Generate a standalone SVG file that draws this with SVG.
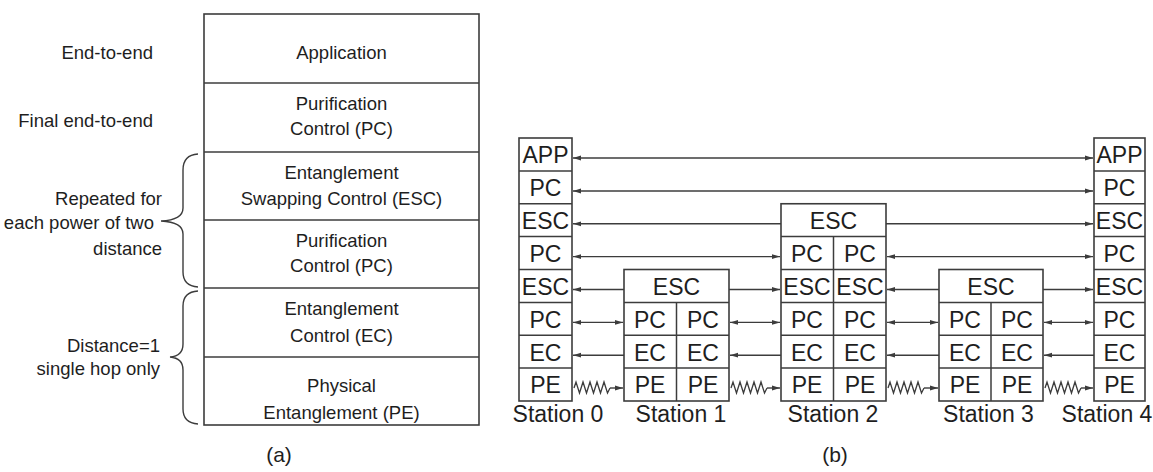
<svg xmlns="http://www.w3.org/2000/svg" width="1153" height="472" viewBox="0 0 1153 472">
<style>
  .bg{fill:#ffffff}
  .box{fill:#ffffff;stroke:#3c3c3c;stroke-width:1.6}
  .div{stroke:#3c3c3c;stroke-width:1.5;fill:none}
  text{font-family:"Liberation Sans",Arial,sans-serif;fill:#1e1e1e}
  .ta{font-size:18.5px}
  .tb{font-size:23px;text-anchor:middle}
  .cap{font-size:21px;text-anchor:middle}
  .mid{text-anchor:middle}
  .end{text-anchor:end}
  .brace{fill:none;stroke:#3c3c3c;stroke-width:1.4}
  .ar2{stroke:#3c3c3c;stroke-width:1.4;fill:none;marker-end:url(#ah)}
  .ar3{stroke:#3c3c3c;stroke-width:1.4;fill:none;marker-start:url(#ah);marker-end:url(#ah)}
  .wave{stroke:#3c3c3c;stroke-width:1.3;fill:none;stroke-linejoin:miter}
</style>
<defs>
  <marker id="ah" viewBox="0 0 8 6" refX="8" refY="3" markerWidth="8" markerHeight="6" orient="auto-start-reverse" markerUnits="userSpaceOnUse">
    <path d="M0,0.6 L8,3 L0,5.4 Z" fill="#3c3c3c"/>
  </marker>
</defs>
<rect class="bg" x="0" y="0" width="1153" height="472"/>

<g id="stack-a">
  <rect class="box" x="204" y="14" width="275" height="411"/>
  <line class="div" x1="204" y1="83" x2="479" y2="83"/>
  <line class="div" x1="204" y1="152" x2="479" y2="152"/>
  <line class="div" x1="204" y1="220" x2="479" y2="220"/>
  <line class="div" x1="204" y1="288" x2="479" y2="288"/>
  <line class="div" x1="204" y1="357" x2="479" y2="357"/>
</g>
<g id="layer-app"><text class="ta mid" x="341.5" y="59">Application</text></g>
<g id="layer-pc-final"><text class="ta mid" x="341.5" y="110">Purification</text><text class="ta mid" x="341.5" y="135">Control (PC)</text></g>
<g id="layer-esc"><text class="ta mid" x="341.5" y="179">Entanglement</text><text class="ta mid" x="341.5" y="205">Swapping Control (ESC)</text></g>
<g id="layer-pc"><text class="ta mid" x="341.5" y="247">Purification</text><text class="ta mid" x="341.5" y="272">Control (PC)</text></g>
<g id="layer-ec"><text class="ta mid" x="341.5" y="315">Entanglement</text><text class="ta mid" x="341.5" y="342">Control (EC)</text></g>
<g id="layer-pe"><text class="ta mid" x="341.5" y="392">Physical</text><text class="ta mid" x="341.5" y="419">Entanglement (PE)</text></g>

<g id="labels-a">
  <text class="ta end" x="153" y="59">End-to-end</text>
  <text class="ta end" x="153" y="127">Final end-to-end</text>
  <text class="ta end" x="162" y="205">Repeated for</text>
  <text class="ta end" x="154" y="229">each power of two</text>
  <text class="ta end" x="162" y="255">distance</text>
  <text class="ta end" x="160" y="352">Distance=1</text>
  <text class="ta end" x="160" y="375">single hop only</text>
  <path class="brace" d="M198,154 Q183,155 183,170 L183,208 Q183,220 161,221 Q183,222 183,234 L183,272 Q183,286 198,287"/>
  <path class="brace" d="M198,291 Q183,292 183,306 L183,344 Q183,356 170,357 Q183,358 183,370 L183,409 Q183,423 198,424"/>
  <text class="cap" x="279" y="462">(a)</text>
</g>

<g id="station0">
  <rect class="box" x="519" y="138" width="53" height="263"/>
  <line class="div" x1="519" y1="170.9" x2="572" y2="170.9"/>
  <line class="div" x1="519" y1="203.75" x2="572" y2="203.75"/>
  <line class="div" x1="519" y1="236.6" x2="572" y2="236.6"/>
  <line class="div" x1="519" y1="269.5" x2="572" y2="269.5"/>
  <line class="div" x1="519" y1="302.4" x2="572" y2="302.4"/>
  <line class="div" x1="519" y1="335.25" x2="572" y2="335.25"/>
  <line class="div" x1="519" y1="368.1" x2="572" y2="368.1"/>
  <text class="tb" x="545.5" y="163">APP</text>
  <text class="tb" x="545.5" y="196">PC</text>
  <text class="tb" x="545.5" y="229">ESC</text>
  <text class="tb" x="545.5" y="262">PC</text>
  <text class="tb" x="545.5" y="295">ESC</text>
  <text class="tb" x="545.5" y="327.5">PC</text>
  <text class="tb" x="545.5" y="360.5">EC</text>
  <text class="tb" x="545.5" y="393">PE</text>
  <text class="tb" x="558" y="422">Station 0</text>
</g>

<g id="station1">
  <rect class="box" x="624" y="269.5" width="105" height="131.5"/>
  <line class="div" x1="624" y1="302.4" x2="729" y2="302.4"/>
  <line class="div" x1="624" y1="335.25" x2="729" y2="335.25"/>
  <line class="div" x1="624" y1="368.1" x2="729" y2="368.1"/>
  <line class="div" x1="676.5" y1="302.4" x2="676.5" y2="401"/>
  <text class="tb" x="676.5" y="295">ESC</text>
  <text class="tb" x="650" y="327.5">PC</text><text class="tb" x="703" y="327.5">PC</text>
  <text class="tb" x="650" y="360.5">EC</text><text class="tb" x="703" y="360.5">EC</text>
  <text class="tb" x="650" y="393">PE</text><text class="tb" x="703" y="393">PE</text>
  <text class="tb" x="681" y="422">Station 1</text>
</g>

<g id="station2">
  <rect class="box" x="781" y="203.75" width="105" height="197.25"/>
  <line class="div" x1="781" y1="236.6" x2="886" y2="236.6"/>
  <line class="div" x1="781" y1="269.5" x2="886" y2="269.5"/>
  <line class="div" x1="781" y1="302.4" x2="886" y2="302.4"/>
  <line class="div" x1="781" y1="335.25" x2="886" y2="335.25"/>
  <line class="div" x1="781" y1="368.1" x2="886" y2="368.1"/>
  <line class="div" x1="833.5" y1="236.6" x2="833.5" y2="401"/>
  <text class="tb" x="833.5" y="229">ESC</text>
  <text class="tb" x="807" y="262">PC</text><text class="tb" x="860" y="262">PC</text>
  <text class="tb" x="807" y="295">ESC</text><text class="tb" x="860" y="295">ESC</text>
  <text class="tb" x="807" y="327.5">PC</text><text class="tb" x="860" y="327.5">PC</text>
  <text class="tb" x="807" y="360.5">EC</text><text class="tb" x="860" y="360.5">EC</text>
  <text class="tb" x="807" y="393">PE</text><text class="tb" x="860" y="393">PE</text>
  <text class="tb" x="833" y="422">Station 2</text>
</g>

<g id="station3">
  <rect class="box" x="939" y="269.5" width="104" height="131.5"/>
  <line class="div" x1="939" y1="302.4" x2="1043" y2="302.4"/>
  <line class="div" x1="939" y1="335.25" x2="1043" y2="335.25"/>
  <line class="div" x1="939" y1="368.1" x2="1043" y2="368.1"/>
  <line class="div" x1="991" y1="302.4" x2="991" y2="401"/>
  <text class="tb" x="991" y="295">ESC</text>
  <text class="tb" x="965" y="327.5">PC</text><text class="tb" x="1017" y="327.5">PC</text>
  <text class="tb" x="965" y="360.5">EC</text><text class="tb" x="1017" y="360.5">EC</text>
  <text class="tb" x="965" y="393">PE</text><text class="tb" x="1017" y="393">PE</text>
  <text class="tb" x="988.5" y="422">Station 3</text>
</g>

<g id="station4">
  <rect class="box" x="1094" y="138" width="51" height="263"/>
  <line class="div" x1="1094" y1="170.9" x2="1145" y2="170.9"/>
  <line class="div" x1="1094" y1="203.75" x2="1145" y2="203.75"/>
  <line class="div" x1="1094" y1="236.6" x2="1145" y2="236.6"/>
  <line class="div" x1="1094" y1="269.5" x2="1145" y2="269.5"/>
  <line class="div" x1="1094" y1="302.4" x2="1145" y2="302.4"/>
  <line class="div" x1="1094" y1="335.25" x2="1145" y2="335.25"/>
  <line class="div" x1="1094" y1="368.1" x2="1145" y2="368.1"/>
  <text class="tb" x="1119.5" y="163">APP</text>
  <text class="tb" x="1119.5" y="196">PC</text>
  <text class="tb" x="1119.5" y="229">ESC</text>
  <text class="tb" x="1119.5" y="262">PC</text>
  <text class="tb" x="1119.5" y="295">ESC</text>
  <text class="tb" x="1119.5" y="327.5">PC</text>
  <text class="tb" x="1119.5" y="360.5">EC</text>
  <text class="tb" x="1119.5" y="393">PE</text>
  <text class="tb" x="1107" y="422">Station 4</text>
</g>

<g id="connectors">
  <line class="ar3" x1="573" y1="158" x2="1093" y2="158"/>
  <line class="ar3" x1="573" y1="191" x2="1093" y2="191"/>
  <line class="ar2" x1="781" y1="223.8" x2="573" y2="223.8"/>
  <line class="ar2" x1="886" y1="223.8" x2="1093" y2="223.8"/>
  <line class="ar3" x1="573" y1="256.6" x2="780" y2="256.6"/>
  <line class="ar3" x1="887" y1="256.6" x2="1093" y2="256.6"/>
  <line class="ar2" x1="624" y1="289.5" x2="573" y2="289.5"/>
  <line class="ar2" x1="729" y1="289.5" x2="780" y2="289.5"/>
  <line class="ar2" x1="939" y1="289.5" x2="887" y2="289.5"/>
  <line class="ar2" x1="1043" y1="289.5" x2="1093" y2="289.5"/>
  <line class="ar3" x1="573" y1="322.4" x2="623" y2="322.4"/>
  <line class="ar3" x1="730" y1="322.4" x2="780" y2="322.4"/>
  <line class="ar3" x1="887" y1="322.4" x2="938" y2="322.4"/>
  <line class="ar3" x1="1044" y1="322.4" x2="1093" y2="322.4"/>
  <line class="ar2" x1="624" y1="355.2" x2="573" y2="355.2"/>
  <line class="ar2" x1="781" y1="355.2" x2="730" y2="355.2"/>
  <line class="ar2" x1="939" y1="355.2" x2="887" y2="355.2"/>
  <line class="ar2" x1="1094" y1="355.2" x2="1044" y2="355.2"/>
  <path class="wave" d="M574,388 L576,382 L579.5,393 L583,382 L586.5,393 L590,382 L593.5,393 L597,382 L600.5,393 L604,382 L607.5,393 L610,388"/>
  <line class="ar2" x1="610" y1="388" x2="623" y2="388"/>
  <path class="wave" d="M731,388 L733,382 L736.5,393 L740,382 L743.5,393 L747,382 L750.5,393 L754,382 L757.5,393 L761,382 L764.5,393 L767,388"/>
  <line class="ar2" x1="767" y1="388" x2="780" y2="388"/>
  <path class="wave" d="M888,388 L890,382 L893.5,393 L897,382 L900.5,393 L904,382 L907.5,393 L911,382 L914.5,393 L918,382 L921.5,393 L924,388"/>
  <line class="ar2" x1="924" y1="388" x2="938" y2="388"/>
  <path class="wave" d="M1045,388 L1047,382 L1050.5,393 L1054,382 L1057.5,393 L1061,382 L1064.5,393 L1068,382 L1071.5,393 L1075,382 L1078.5,393 L1081,388"/>
  <line class="ar2" x1="1081" y1="388" x2="1093" y2="388"/>
</g>

<text class="cap" x="835" y="462">(b)</text>
</svg>
